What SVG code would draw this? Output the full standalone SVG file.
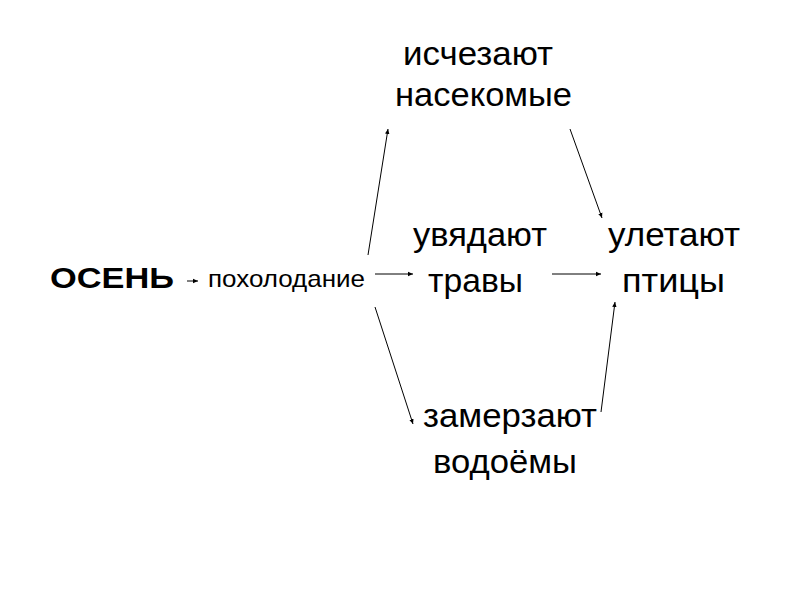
<svg xmlns="http://www.w3.org/2000/svg" width="800" height="600" viewBox="0 0 800 600">
<defs>
<marker id="ah" markerWidth="6" markerHeight="6" refX="5" refY="3" orient="auto" markerUnits="userSpaceOnUse">
<path d="M0,0.8 L5,3 L0,5.2 Z" fill="#000"/>
</marker>
<style>
.t{font-family:"Liberation Sans",Arial,sans-serif;font-size:34px;fill:#000}
.s{font-family:"Liberation Sans",Arial,sans-serif;font-size:24px;fill:#000}
.b{font-family:"Liberation Sans",Arial,sans-serif;font-size:29px;font-weight:bold;fill:#000}
.c{stroke:#000;stroke-width:1;fill:none;marker-end:url(#ah)}
</style>
</defs>
<rect width="800" height="600" fill="#fff"/>
<g id="osen"><text class="b" x="50" y="288" textLength="124" lengthAdjust="spacingAndGlyphs">ОСЕНЬ</text></g>
<g id="poholodanie"><text class="s" x="208" y="287" textLength="157" lengthAdjust="spacingAndGlyphs">похолодание</text></g>
<g id="insects"><text class="t" x="403" y="65" textLength="150" lengthAdjust="spacingAndGlyphs">исчезают</text><text class="t" x="395" y="106" textLength="177" lengthAdjust="spacingAndGlyphs">насекомые</text></g>
<g id="grass"><text class="t" x="413" y="246" textLength="134" lengthAdjust="spacingAndGlyphs">увядают</text><text class="t" x="428" y="292" textLength="95" lengthAdjust="spacingAndGlyphs">травы</text></g>
<g id="birds"><text class="t" x="608" y="246" textLength="132" lengthAdjust="spacingAndGlyphs">улетают</text><text class="t" x="622" y="292" textLength="103" lengthAdjust="spacingAndGlyphs">птицы</text></g>
<g id="water"><text class="t" x="423" y="427" textLength="174" lengthAdjust="spacingAndGlyphs">замерзают</text><text class="t" x="433" y="473" textLength="144" lengthAdjust="spacingAndGlyphs">водоёмы</text></g>
<g id="connectors">
<line class="c" x1="187" y1="281" x2="198" y2="281"/>
<line class="c" x1="368" y1="255" x2="388" y2="129"/>
<line class="c" x1="375" y1="274" x2="413" y2="274"/>
<line class="c" x1="375" y1="307" x2="413" y2="424"/>
<line class="c" x1="570" y1="129" x2="602" y2="218"/>
<line class="c" x1="552" y1="274" x2="601" y2="274"/>
<line class="c" x1="601" y1="412" x2="615" y2="302"/>
</g>
</svg>
